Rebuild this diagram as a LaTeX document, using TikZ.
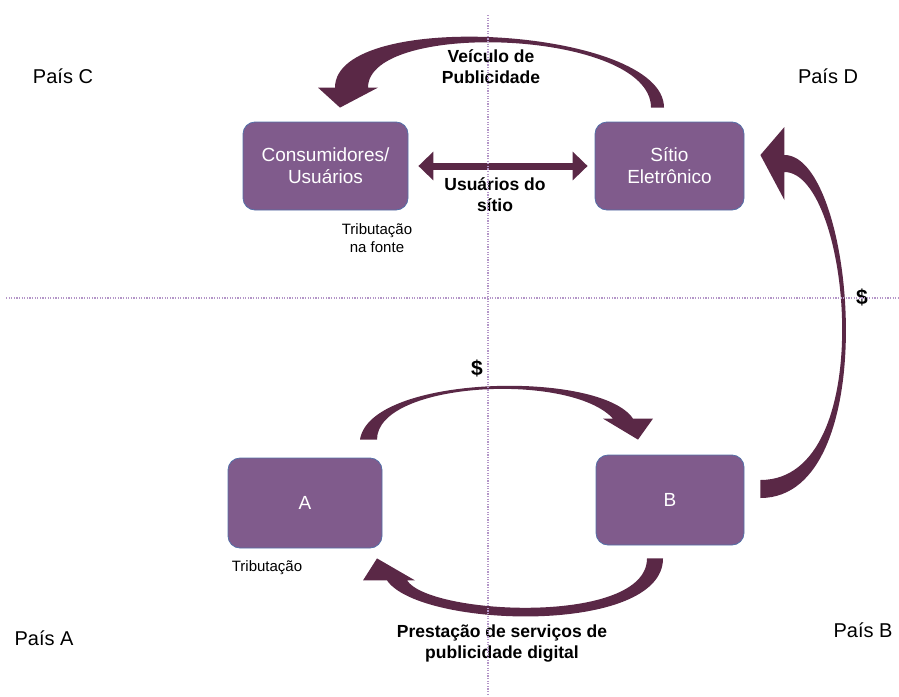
\documentclass[tikz,border=0pt]{standalone}
\usepackage{fontspec}
\setmainfont{Liberation Sans}
\usetikzlibrary{arrows.meta,positioning}
\definecolor{boxfill}{RGB}{128,91,140}
\definecolor{boxline}{RGB}{84,112,168}
\definecolor{flowcol}{RGB}{90,40,70}
\definecolor{gridcol}{RGB}{180,150,200}

\begin{document}
\begin{tikzpicture}[
    x=1pt, y=-1pt,
    box/.style={rectangle, draw=boxline, line width=0.8pt, fill=boxfill, text=white, rounded corners=12pt, align=center, inner sep=0pt, font=\fontsize{19}{22}\selectfont},
    flow/.style={draw=flowcol, line width=7pt},
    band/.style={fill=flowcol},
    flowtext/.style={font=\fontsize{17.5}{21}\selectfont\bfseries, align=center},
    note/.style={font=\fontsize{15}{18}\selectfont, align=center},
    country/.style={font=\fontsize{20}{24}\selectfont},
    divider/.style={draw=gridcol, line width=2pt, dash pattern=on 1.2pt off 1.4pt}
]
    \useasboundingbox (0,0) rectangle (899,696);

    % Entities
    \node[box, minimum width=165pt, minimum height=88pt] (cons) at (325.5,166) {Consumidores/\\Usuários};
    \node[box, minimum width=149pt, minimum height=88pt] (site) at (669.5,166) {Sítio\\Eletrônico};
    \node[box, minimum width=154pt, minimum height=90pt] (A) at (305,503) {A};
    \node[box, minimum width=148pt, minimum height=90pt] (B) at (670,500) {B};

    % Flows
    % site -> consumers (advertising vehicle)
    \fill[band] ([shift={(-5.5,-14)}]site.north) .. controls +(0,-80) and +(0,-80) .. ([shift={(9.5,-34)}]cons.north)
        -- ([shift={(-7.5,-34)}]cons.north) -- ([shift={(14.5,-14)}]cons.north) -- ([shift={(52.5,-34)}]cons.north)
        -- ([shift={(42.5,-34)}]cons.north) .. controls +(0,-68) and +(0,-78) .. ([shift={(-18.5,-14)}]site.north) -- cycle;
    % consumers <-> site (users)
    \draw[flow, {Triangle[width=28pt,length=15pt]}-{Triangle[width=28pt,length=15pt]}, shorten <=10pt, shorten >=7pt] (cons.east) -- (site.west);
    % B -> site (payment)
    \fill[band] ([shift={(16,-2)}]B.east) .. controls +(125,0) and +(71,0) .. ([shift={(40,-11)}]site.east)
        -- ([shift={(40,-39)}]site.east) -- ([shift={(16,-11)}]site.east) -- ([shift={(40,34)}]site.east)
        -- ([shift={(40,6)}]site.east) .. controls +(66,0) and +(120,0) .. ([shift={(16,-20)}]B.east) -- cycle;
    % A -> B (payment)
    \fill[band] ([shift={(55,-18)}]A.north) .. controls +(10,-65) and +(-33,-49) .. ([shift={(-37,-36)}]B.north)
        -- ([shift={(-17,-36)}]B.north) -- ([shift={(-32,-15)}]B.north) -- ([shift={(-67,-36)}]B.north)
        -- ([shift={(-57,-36)}]B.north) .. controls +(-43,-47) and +(0,-58) .. ([shift={(72,-18)}]A.north) -- cycle;
    % B -> A (advertising services)
    \fill[band] ([shift={(-7,13)}]B.south) .. controls +(0,77) and +(33,48) .. ([shift={(82,32)}]A.south)
        -- ([shift={(58,32)}]A.south) -- ([shift={(72,10)}]A.south) -- ([shift={(110,32)}]A.south)
        -- ([shift={(102,32)}]A.south) .. controls +(23,35) and +(0,67) .. ([shift={(-23,13)}]B.south) -- cycle;

    % Labels
    \node[flowtext] (vehicle) at (491,67) {Veículo de\\Publicidade};
    \node[flowtext] (users) at (495,195) {Usuários do\\sítio};
    \node[flowtext] (service) at (502,644) {Prestação de serviços de\\publicidade digital};
    \node[flowtext, font=\fontsize{21}{24}\selectfont\bfseries] (payAB) at (477,368) {\$};
    \node[flowtext, font=\fontsize{21}{24}\selectfont\bfseries] (paySite) at (862,297) {\$};
    \node[note] (taxsrc) at (377,238) {Tributação\\na fonte};
    \node[note] (taxA) at (267,568) {Tributação};

    % Countries
    \node[country] (paisC) at (63,76) {País C};
    \node[country] (paisD) at (828,76) {País D};
    \node[country] (paisA) at (44,638) {País A};
    \node[country] (paisB) at (863,630) {País B};

    % Borders
    \draw[divider] (488,15) -- (488,696);
    \draw[divider] (6,298) -- (899,298);
\end{tikzpicture}
\end{document}
